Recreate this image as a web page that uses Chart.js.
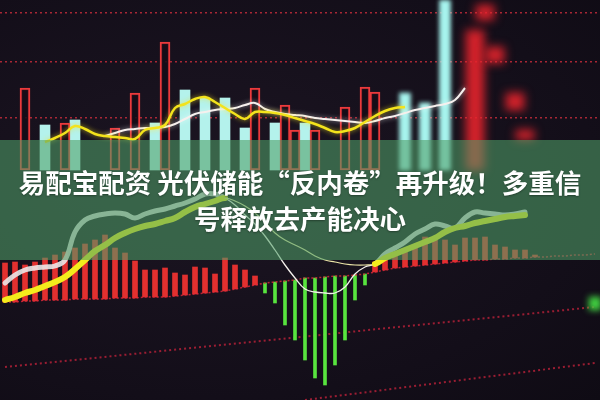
<!DOCTYPE html>
<html lang="zh-CN">
<head>
<meta charset="utf-8">
<title>易配宝配资 光伏储能“反内卷”再升级</title>
<script src="https://cdn.jsdelivr.net/npm/chart.js@4.4.1/dist/chart.umd.min.js"></script>
<style>
	html, body { margin: 0; padding: 0; background: #150f1b; }
	#root { position: relative; width: 600px; height: 400px; overflow: hidden;
		background: radial-gradient(ellipse at 35% 45%, #1c1522 0%, #130e19 70%, #0f0b14 100%); }
	#main-chart { position: absolute; left: 0; top: 0; }
	#banner { position: absolute; left: 0; top: 140px; width: 600px; height: 120px;
		background: rgba(80, 158, 104, 0.58);
		display: flex; align-items: center; justify-content: center; text-align: center;
		color: #ffffff; font-family: "Noto Sans CJK SC", "Noto Sans", sans-serif; font-weight: 700;
		font-size: 26.5px; line-height: 36px; text-shadow: 0 1px 2px rgba(0, 0, 0, 0.35); }
</style>
</head>
<body>
<div id="root">
	<canvas id="main-chart" width="600" height="400"></canvas>
	<div id="banner">易配宝配资 光伏储能“反内卷”再升级！多重信<br>号释放去产能决心</div>
</div>
<script>
// one slot per candle, 60 across the screen
const slots = Array.from({ length: 60 }, (_, i) => String(i + 1));

// dotted price levels in the top panel
const gridLevels = [387, 338, 282];

// upper panel: hollow red (up) and filled cyan (down) candles
const priceLow = 230;
const redSlots = [2, 6, 11, 13, 16, 25, 28, 29, 31, 34, 36, 37];
const redHighs = [312, 277, 272, 307, 358, 312, 295, 270, 270, 293, 313, 308];
const cyanSlots = [4, 7, 15, 18, 20, 22, 24, 27, 30];
const cyanHighs = [275, 280, 277, 310, 302, 302, 272, 277, 277];

// out of focus candles on the right
const farCyanSlots = [40, 42, 44];
const farCyanHighs = [307, 297, 400];
const farRedSlots = [47, 48, 49, 51, 52];
const farRedRanges = [[230, 370], [380, 395], [337, 353], [290, 307], [260, 270]];
const farGreenSlots = [59];
const farGreenRanges = [[90, 103]];

// moving averages of the top panel
const maYellowStart = 4;
const maYellow = [258, 262, 267, 274, 271, 266, 264, 263, 262, 261, 270, 272, 275, 292, 296, 301, 303, 298, 292,
	286, 281, 288, 288, 287, 285, 282, 279, 276, 272, 268, 269, 272, 278, 284, 289, 292, 293];
const maWhiteStart = 10;
const maWhite = [264, 267, 270, 271, 272, 272, 273, 276, 281, 286, 288, 290, 291, 292, 295, 297, 291, 288, 286,
	285, 284, 282, 281, 280, 279, 278, 277, 279, 282, 284, 287, 290, 292, 294, 296, 300, 312];

// lower panel: MACD histogram (zero line tilts with the screen)
const macdBase = [98, 98, 99, 99, 100, 100, 100, 101, 101, 101, 101, 102, 102, 102, 103, 103, 103, 104,
	105, 106, 107, 108, 109, 111, 113, 115, 117, 118, 119, 120, 122, 122, 123, 124, 124, 125,
	126, 128, 130, 132, 133, 134, 135, 136, 137, 138, 139, 140, 140, 141, 141, 142, 142, 143,
	143, 144, 144, 145, 145, 146];
const macdRed = [137, 138, 135, 138, 142, 145, 148, 152, 156, 160, 165, 152, 147, 139, 130, 130, 132, 127,
	125, 133, 132, 126, 142, 135, 130, 124, null, null, null, null, null, null, null, null, null, null,
	null, 138, 142, 145, 150, 155, 163, 160, 160, 155, 162, 162, 163, 155, 153, 150, 150, 145,
	null, null, null, null, null, null];
const macdGreen = [null, null, null, null, null, null, null, null, null, null, null, null, null, null, null, null, null, null,
	null, null, null, null, null, null, null, null, 107, 97, 75, 60, 40, 22, 15, 35, 60, 100,
	115, null, null, null, null, null, null, null, null, null, null, null, null, null, null, null, null, null,
	null, null, null, null, null, null];

// DIF and DEA lines
const difLine = [117, 125, 130, 132, 133, 134, 140, 168, 180, 184, 186, 187, 186, 182, 186, 189, 191, 194, 197, 201,
	206, 206, 202, 195, 185, 176, 164, 150, 135, 122, 111, 108, 107, 107, 113, 126, 133, 136, 146, 152,
	158, 166, 171, 176, 174, 172, 182, 188, 187, 186, 185, 186, 188];
const deaLine = [100, 103, 107, 110, 114, 118, 123, 131, 140, 149, 155, 162, 167, 171, 174, 176, 179, 182, 188, 193,
	196, 199, 202, 199, 194, 187, 178, 167, 160, 155, 150, 144, 140, 138, 136, 135, 135, 136, 142, 146,
	150, 154, 158, 162, 168, 172, 174, 177, 179, 181, 183, 184, 185];

// slanted dotted levels of the lower panel
const guideA = [[0, 33], [59, 93]];
const guideB = [[30, 0], [59, 37]];

function place(start, values) {
	const out = slots.map(() => null);
	values.forEach((v, i) => { out[start + i] = v; });
	return out;
}
function scatter(where, values) {
	const out = slots.map(() => null);
	where.forEach((s, i) => { out[s] = values[i]; });
	return out;
}
function candles(where, highs) {
	return scatter(where, highs.map(h => [priceLow, h]));
}
function guide(pts) {
	const out = slots.map(() => null);
	pts.forEach(p => { out[p[0]] = p[1]; });
	return out;
}
const thin = c => c.p0DataIndex >= 22 && c.p0DataIndex < 37;

// blur / glow per dataset
const lensPlugin = {
	id: 'lens',
	beforeDatasetDraw(chart, args) {
		const ds = chart.data.datasets[args.index];
		const ctx = chart.ctx;
		if (ds.blur) ctx.filter = 'blur(' + ds.blur + 'px)';
		if (ds.glow) { ctx.shadowColor = ds.glow; ctx.shadowBlur = 5; }
	},
	afterDatasetDraw(chart) {
		const ctx = chart.ctx;
		ctx.filter = 'none';
		ctx.shadowBlur = 0;
		ctx.shadowColor = 'rgba(0,0,0,0)';
	}
};

const guideStyle = { type: 'line', pointRadius: 0, tension: 0, spanGaps: true, borderColor: 'rgba(200,35,60,0.75)',
	borderWidth: 2, borderDash: [2, 3], order: 6 };

const ctx = document.getElementById('main-chart');
const chart = new Chart(ctx, {
	type: 'bar',
	data: {
		labels: slots,
		datasets: [
			Object.assign({ data: guide(guideA) }, guideStyle),
			Object.assign({ data: guide(guideB) }, guideStyle),
			{ type: 'line', data: macdBase, pointRadius: 0, borderColor: 'rgba(225,40,60,0.8)', borderWidth: 1.5,
				borderDash: [2, 2], order: 2 },
			{ data: candles(redSlots, redHighs), backgroundColor: 'rgba(22,12,22,0.85)', borderColor: '#ec3a3c',
				borderWidth: 2, borderSkipped: false, barThickness: 10, order: 4 },
			{ data: candles(cyanSlots, cyanHighs), backgroundColor: '#b4f2ec', barThickness: 10, order: 4 },
			{ data: candles(farCyanSlots, farCyanHighs), backgroundColor: '#a6f4ee', barThickness: 11, order: 4, blur: 2 },
			{ data: scatter(farRedSlots, farRedRanges), backgroundColor: 'rgba(232,36,44,0.9)', barThickness: 18, order: 5, blur: 5 },
			{ data: scatter(farGreenSlots, farGreenRanges), backgroundColor: '#40d040', barThickness: 12, order: 5, blur: 3 },
			{ data: macdRed.map((t, i) => t == null ? null : [macdBase[i], t]), backgroundColor: '#e3302f',
				barThickness: 5, order: 3 },
			{ data: macdGreen.map((b, i) => b == null ? null : [b, macdBase[i]]), backgroundColor: '#58e43e',
				barThickness: 3, order: 3 },
			{ type: 'line', data: place(maYellowStart, maYellow), borderColor: '#f3e31c', borderWidth: 2.5,
				pointRadius: 0, tension: 0.4, order: 1, glow: 'rgba(243,227,28,0.7)' },
			{ type: 'line', data: place(maWhiteStart, maWhite), borderColor: '#f6f0ee', borderWidth: 2,
				pointRadius: 0, tension: 0.4, order: 1, glow: 'rgba(255,255,255,0.6)' },
			{ type: 'line', data: deaLine, borderColor: '#f4ec1c', pointRadius: 0, tension: 0.4, order: 0,
				borderCapStyle: 'round', borderJoinStyle: 'round',
				segment: { borderWidth: c => thin(c) ? 1.2 : 6, borderColor: c => thin(c) ? '#ece6a8' : '#f4ec1c' } },
			{ type: 'line', data: difLine, borderColor: '#ece6e6', pointRadius: 0, tension: 0.4, order: 0,
				borderCapStyle: 'round', borderJoinStyle: 'round',
				segment: { borderWidth: c => thin(c) ? 1.3 : 5, borderColor: c => thin(c) ? '#f4f0ec' : 'rgba(236,232,232,0.9)' } }
		]
	},
	options: {
		responsive: false,
		animation: false,
		devicePixelRatio: 1,
		layout: { padding: 0 },
		datasets: { bar: { grouped: false } },
		plugins: { legend: { display: false }, tooltip: { enabled: false } },
		scales: {
			x: { display: false, offset: true },
			y: {
				min: 0, max: 400,
				afterFit(scale) { scale.width = 0; },
				afterBuildTicks(scale) { scale.ticks = gridLevels.map(v => ({ value: v })); },
				ticks: { display: false },
				grid: { color: 'rgba(205,45,60,0.8)', lineWidth: 1.5, drawTicks: false },
				border: { display: false, dash: [2, 3] }
			}
		}
	},
	plugins: [lensPlugin]
});
</script>
</body>
</html>
